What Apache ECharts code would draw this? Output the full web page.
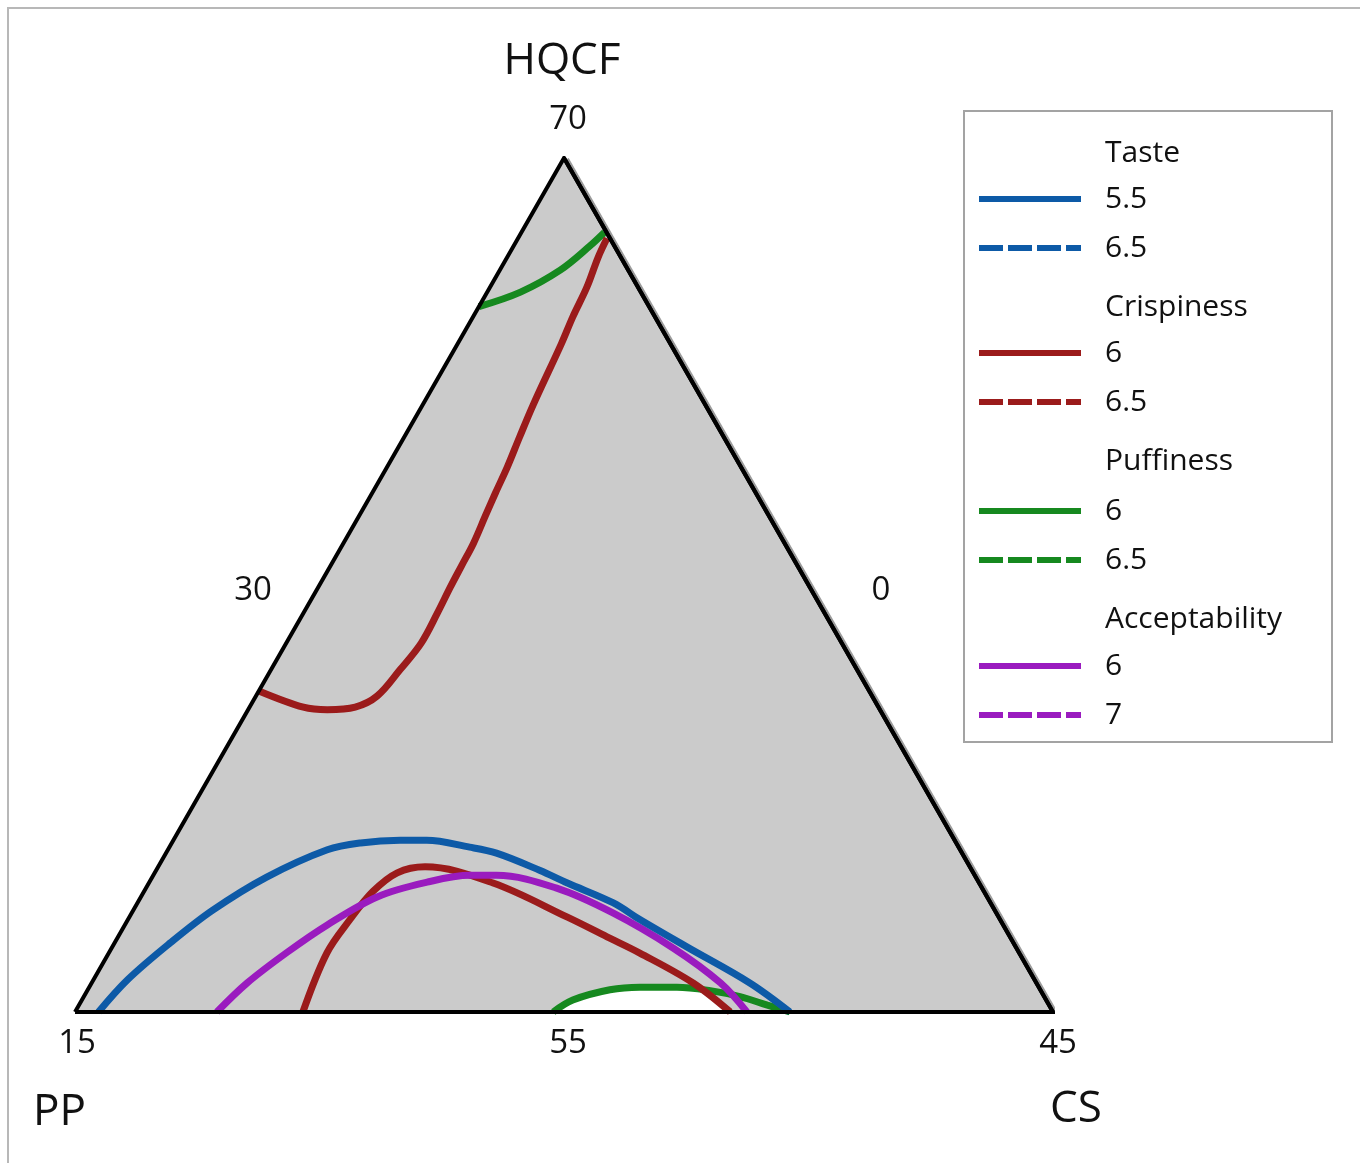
<!DOCTYPE html>
<html>
<head>
<meta charset="utf-8">
<script src="https://cdn.jsdelivr.net/npm/echarts@6/dist/echarts.min.js"></script>
<style>
  html, body { margin: 0; padding: 0; background: #ffffff; }
  #chart { width: 1360px; height: 1163px; }
</style>
</head>
<body>
<div id="chart"></div>
<script>
// Ternary data as pseudo-component fractions [HQCF, CS]; PP = 1 - HQCF - CS.
const componentNames = ['HQCF', 'PP', 'CS'];
const vertexLabels = ['70', '15', '45'];   // HQCF top, PP bottom-left, CS bottom-right
const edgeLabels = ['30', '0', '55'];      // left edge, right edge, bottom edge

const taste55 = [[0.000,0.024],[0.038,0.035],[0.081,0.057],[0.119,0.081],[0.158,0.117],[0.190,0.163],[0.198,0.193],[0.201,0.232],[0.201,0.259],[0.193,0.307],[0.186,0.338],[0.166,0.392],[0.151,0.428],[0.128,0.486],[0.108,0.524],[0.076,0.588],[0.034,0.673],[0.000,0.731]];
const taste65 = [];
const crispiness6Upper = [[0.376,0.000],[0.357,0.055],[0.354,0.081],[0.357,0.108],[0.370,0.124],[0.401,0.132],[0.432,0.138],[0.467,0.137],[0.498,0.135],[0.523,0.134],[0.549,0.133],[0.582,0.129],[0.608,0.126],[0.638,0.123],[0.673,0.118],[0.711,0.113],[0.783,0.106],[0.814,0.102],[0.849,0.099],[0.884,0.093],[0.906,0.091]];
const crispiness6Lower = [[0.000,0.233],[0.069,0.223],[0.108,0.227],[0.141,0.234],[0.163,0.248],[0.170,0.273],[0.151,0.352],[0.111,0.448],[0.088,0.500],[0.069,0.543],[0.034,0.615],[0.000,0.670]];
const crispiness65 = [];
const puffiness6Upper = [[0.826,0.000],[0.843,0.034],[0.869,0.062],[0.897,0.078],[0.913,0.085]];
const puffiness6Lower = [[0.000,0.489],[0.014,0.502],[0.026,0.534],[0.029,0.563],[0.029,0.601],[0.025,0.637],[0.018,0.671],[0.008,0.704],[0.000,0.731]];
const puffiness65 = [];
const acceptability6 = [[0.000,0.145],[0.034,0.159],[0.070,0.182],[0.102,0.207],[0.135,0.242],[0.152,0.284],[0.160,0.324],[0.160,0.351],[0.145,0.420],[0.116,0.492],[0.075,0.574],[0.034,0.643],[0.000,0.687]];
const acceptability7 = [];
const optimumRegion = [[0.000,0.489],[0.014,0.502],[0.026,0.534],[0.029,0.563],[0.029,0.601],[0.026,0.629],[0.000,0.670]];
const triangleVertices = [[0,0],[1,0],[0,1]]; // PP corner, HQCF corner, CS corner as [HQCF, CS]

const FONT = 'Open Sans';
const COLORS = { taste: '#0d5aa7', crisp: '#9b1b1b', puff: '#16891f', accept: '#9a1bbf' };
const DASH = [24, 5];

// ternary -> cartesian (x along base, y = HQCF height)
function toXY(p) { return [p[1] + p[0] / 2, p[0]]; }
function conv(arr) { return arr.map(toXY); }

const chart = echarts.init(document.getElementById('chart'), null, { renderer: 'canvas' });

function curve(name, data, color, dashed) {
  return {
    name: name, type: 'line', data: conv(data), smooth: 0.35,
    symbol: 'none', showSymbol: false, silent: true,
    lineStyle: { color: color, width: 7, type: dashed ? DASH : 'solid' },
    itemStyle: { color: color },
    z: 5
  };
}

const tri = conv(triangleVertices);
const triBorder = [tri[0], tri[1], tri[2], tri[0]];
const triFill = [tri[0], tri[1], tri[2]].sort((a, b) => a[0] - b[0]);

function legendBlock(top, names) {
  return {
    orient: 'vertical', left: 976, top: top, padding: 0,
    itemWidth: 102, itemHeight: 14, itemGap: 19,
    selectedMode: false,
    data: names,
    itemStyle: { opacity: 0 },
    lineStyle: { width: 6 },
    formatter: n => n.split(' ').slice(1).join(' '),
    textStyle: { fontFamily: FONT, fontSize: 30, color: '#111', padding: [0, 0, 0, 19] }
  };
}

function txt(x, y, text, size, align) {
  return { type: 'text', x: x, y: y, style: { text: text, font: size + 'px "' + FONT + '"', fill: '#111', textAlign: align || 'center', textVerticalAlign: 'middle' } };
}

const option = {
  animation: false,
  backgroundColor: '#ffffff',
  grid: { left: 75, top: 158, width: 978, height: 854, containLabel: false },
  xAxis: { type: 'value', min: 0, max: 1, show: false },
  yAxis: { type: 'value', min: 0, max: 1, show: false },
  legend: [
    legendBlock(184, ['Taste 5.5', 'Taste 6.5']),
    legendBlock(338, ['Crispiness 6', 'Crispiness 6.5']),
    legendBlock(496, ['Puffiness 6', 'Puffiness 6.5']),
    legendBlock(651, ['Acceptability 6', 'Acceptability 7'])
  ],
  series: [
    { name: 'fill', type: 'line', data: triFill, symbol: 'none', silent: true,
      lineStyle: { width: 0 }, areaStyle: { color: '#cbcbcb', opacity: 1 }, z: 1 },
    { name: 'optimum', type: 'line', data: conv(optimumRegion), smooth: 0.35, symbol: 'none', silent: true,
      lineStyle: { width: 0 }, areaStyle: { color: '#ffffff', opacity: 1 }, z: 2 },
    curve('Puffiness 6', puffiness6Upper, COLORS.puff, false),
    Object.assign(curve('Puffiness 6', puffiness6Lower, COLORS.puff, false), { name: 'Puffiness 6 ' }),
    curve('Puffiness 6.5', puffiness65, COLORS.puff, true),
    curve('Crispiness 6', crispiness6Upper, COLORS.crisp, false),
    Object.assign(curve('Crispiness 6', crispiness6Lower, COLORS.crisp, false), { name: 'Crispiness 6 ' }),
    curve('Crispiness 6.5', crispiness65, COLORS.crisp, true),
    curve('Acceptability 6', acceptability6, COLORS.accept, false),
    curve('Acceptability 7', acceptability7, COLORS.accept, true),
    curve('Taste 5.5', taste55, COLORS.taste, false),
    curve('Taste 6.5', taste65, COLORS.taste, true),
    { name: 'rightEdge', type: 'line', data: [tri[1], tri[2]], symbol: 'none', silent: true,
      lineStyle: { color: '#000', width: 4, shadowColor: '#9c9c9c', shadowOffsetX: 3, shadowOffsetY: 1, shadowBlur: 0 }, z: 8 },
    { name: 'border', type: 'line', data: triBorder, symbol: 'none', silent: true,
      lineStyle: { color: '#000', width: 4, join: 'miter' }, z: 9 }
  ],
  graphic: [
    { type: 'line', shape: { x1: 7, y1: 8, x2: 1360, y2: 8 }, style: { stroke: '#b8b8b8', lineWidth: 2 } },
    { type: 'line', shape: { x1: 8, y1: 7, x2: 8, y2: 1163 }, style: { stroke: '#b8b8b8', lineWidth: 2 } },
    { type: 'rect', shape: { x: 964, y: 111, width: 368, height: 631 }, style: { fill: 'none', stroke: '#a3a3a3', lineWidth: 2 } },
    txt(1105, 153, 'Taste', 30, 'left'),
    txt(1105, 307, 'Crispiness', 30, 'left'),
    txt(1105, 461, 'Puffiness', 30, 'left'),
    txt(1105, 619, 'Acceptability', 30, 'left'),
    txt(562, 61, componentNames[0], 44),
    txt(33, 1112, componentNames[1], 44, 'left'),
    txt(1050, 1109, componentNames[2], 44, 'left'),
    txt(568, 120, vertexLabels[0], 33),
    txt(77, 1044, vertexLabels[1], 33),
    txt(1058, 1044, vertexLabels[2], 33),
    txt(253, 591, edgeLabels[0], 33),
    txt(881, 591, edgeLabels[1], 33),
    txt(568, 1044, edgeLabels[2], 33)
  ]
};

chart.setOption(option);
</script>
</body>
</html>
